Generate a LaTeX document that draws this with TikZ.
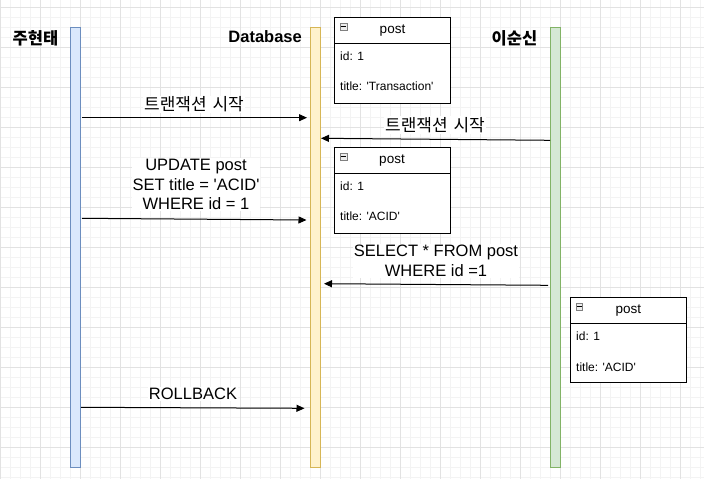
\documentclass[tikz,border=0pt]{standalone}
\usepackage{fontspec}
\setmainfont{Liberation Sans}
\newfontfamily\kr{Noto Sans CJK KR}
\usetikzlibrary{arrows.meta}
\definecolor{bluefill}{HTML}{DAE8FC}
\definecolor{blueline}{HTML}{6C8EBF}
\definecolor{yelfill}{HTML}{FFF2CC}
\definecolor{yelline}{HTML}{D6B656}
\definecolor{grnfill}{HTML}{D5E8D4}
\definecolor{grnline}{HTML}{82B366}
\definecolor{minorg}{HTML}{F3F3F3}
\definecolor{majorg}{HTML}{E2E2E2}
\newcommand{\sq}{\textquotesingle}
\tikzset{
  minorgrid/.style={draw=minorg, line width=1pt},
  majorgrid/.style={draw=majorg, line width=1pt},
  lifeline/.style={rectangle, line width=1pt, minimum width=10pt, minimum height=440pt, anchor=north west, inner sep=0pt, outer sep=0pt},
  msg/.style={draw=black, line width=1pt, -{Triangle[length=8pt,width=7pt]}},
  lbl/.style={fill=white, inner sep=1pt, align=center, font=\fontsize{16.5}{19.5}\selectfont},
  krlbl/.style={fill=white, inner sep=1pt, font=\kr\fontsize{17}{19}\selectfont},
  head/.style={font=\bfseries\fontsize{16.5}{19}\selectfont, inner sep=0pt},
  krhead/.style={font=\kr\bfseries\fontsize{16.5}{19}\selectfont, inner sep=0pt},
  postbox/.style={draw=black, line width=1pt, fill=white, rectangle, anchor=north west, inner sep=0pt, outer sep=0pt},
  posttitle/.style={font=\fontsize{13.5}{15}\selectfont, inner sep=0pt},
  field/.style={font=\fontsize{12}{14}\selectfont, inner sep=0pt, anchor=west},
  minus/.style={draw=gray, fill=gray!15, line width=0.6pt, minimum size=6.5pt, inner sep=0pt, anchor=north west}
}
\begin{document}
\begin{tikzpicture}[x=1pt,y=-1pt]
\useasboundingbox (0,0) rectangle (704,479);
\fill[white] (0,0) rectangle (704,479);
% grid
\foreach \x in {0,10,...,700} \draw[minorgrid] (\x,0) -- (\x,479);
\foreach \y in {7.3,17.3,...,477.3} \draw[minorgrid] (0,\y) -- (704,\y);
\foreach \x in {0,40,...,680} \draw[majorgrid] (\x,0) -- (\x,479);
\foreach \y in {7.3,47.3,...,467.3} \draw[majorgrid] (0,\y) -- (704,\y);

% lifelines
\node[lifeline, fill=bluefill, draw=blueline] (L1) at (70.7,27) {};
\node[lifeline, fill=yelfill, draw=yelline] (L2) at (310.3,27) {};
\node[lifeline, fill=grnfill, draw=grnline] (L3) at (550.7,27) {};

% headers
\node[krhead] (h1) at (35.5,38) {주현태};
\node[head, anchor=east] (h2) at (302,37) {Database};
\node[krhead] (h3) at (514.5,38) {이순신};

% post box 1
\node[postbox, minimum width=116.5pt, minimum height=26pt] (p1h) at (334.3,17.3) {};
\node[postbox, minimum width=116.5pt, minimum height=59.7pt] (p1b) at (p1h.south west) {};
\node[minus] (m1) at (340,23.3) {};
\draw[line width=0.8pt] ([xshift=1.3pt]m1.west) -- ([xshift=-1.3pt]m1.east);
\node[posttitle] (p1t) at (392.5,31) {post};
\node[field] (p1i) at (340,56.7) {id: 1};
\node[field] (p1n) at (340,86.7) {title: \sq Transaction\sq};

% post box 2
\node[postbox, minimum width=116pt, minimum height=26pt] (p2h) at (334,147.3) {};
\node[postbox, minimum width=116pt, minimum height=60.4pt] (p2b) at (p2h.south west) {};
\node[minus] (m2) at (340,153.3) {};
\draw[line width=0.8pt] ([xshift=1.3pt]m2.west) -- ([xshift=-1.3pt]m2.east);
\node[posttitle] (p2t) at (392,161) {post};
\node[field] (p2i) at (340,186.7) {id: 1};
\node[field] (p2n) at (340,216.7) {title: \sq ACID\sq};

% post box 3
\node[postbox, minimum width=115.3pt, minimum height=26pt] (p3h) at (570.7,297.3) {};
\node[postbox, minimum width=115.3pt, minimum height=59pt] (p3b) at (p3h.south west) {};
\node[minus] (m3) at (575.7,303.3) {};
\draw[line width=0.8pt] ([xshift=1.3pt]m3.west) -- ([xshift=-1.3pt]m3.east);
\node[posttitle] (p3t) at (628.3,311) {post};
\node[field] (p3i) at (576,336.7) {id: 1};
\node[field] (p3n) at (576,367.3) {title: \sq ACID\sq};

% message endpoints
\coordinate (a1s) at (82,117.7);
\coordinate (a1e) at (307,117.7);
\coordinate (a2s) at (550,140.3);
\coordinate (a2e) at (321,138.3);
\coordinate (a3s) at (82,218.3);
\coordinate (a3e) at (306.5,220);
\coordinate (a4s) at (548,285.3);
\coordinate (a4e) at (324,283.7);
\coordinate (a5s) at (81,407.3);
\coordinate (a5e) at (304.5,408.3);

\draw[msg] (a1s) -- (a1e);
\draw[msg] (a2s) -- (a2e);
\draw[msg] (a3s) -- (a3e);
\draw[msg] (a4s) -- (a4e);
\draw[msg] (a5s) -- (a5e);

% labels
\node[krlbl] (t1) at (194,104.5) {트랜잭션\hspace{2pt} 시작};
\node[krlbl] (t2) at (435,125) {트랜잭션\hspace{2pt} 시작};
\node[lbl] (t3) at (196,184.5) {UPDATE post\\SET title = \sq ACID\sq\\WHERE id = 1};
\node[lbl] (t4) at (436,261) {SELECT * FROM post\\WHERE id =1};
\node[lbl] (t5) at (193,394) {ROLLBACK};
\end{tikzpicture}
\end{document}
